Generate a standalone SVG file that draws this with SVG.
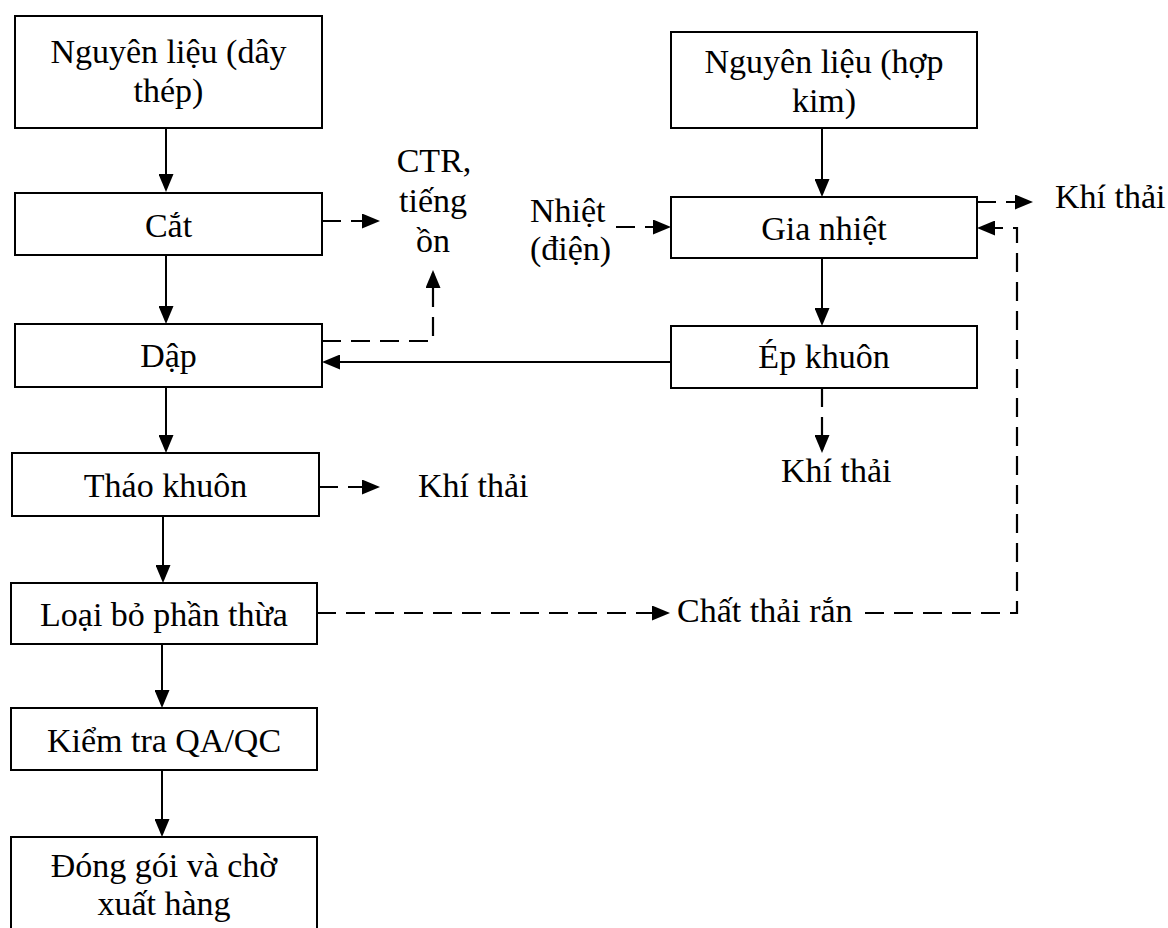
<svg xmlns="http://www.w3.org/2000/svg" width="1168" height="928" viewBox="0 0 1168 928">
  <style>
    .box { fill: #ffffff; stroke: #000000; stroke-width: 2; }
    .lbl { font-family: "Liberation Serif", "Times New Roman", serif; font-size: 34px; fill: #000000; }
    .mid { text-anchor: middle; }
    .solid { fill: none; stroke: #000000; stroke-width: 2; }
    .dash { fill: none; stroke: #000000; stroke-width: 2.2; stroke-dasharray: 19 10; }
  </style>
  <defs>
    <marker id="arrow" markerUnits="userSpaceOnUse" markerWidth="18" markerHeight="15" refX="15" refY="7.5" orient="auto">
      <path d="M0,0 L18,7.5 L0,15 z" fill="#000000"/>
    </marker>
  </defs>

  <rect width="1168" height="928" fill="#ffffff"/>

  <!-- Left process column -->
  <g id="node-nguyen-lieu-day-thep">
    <rect class="box" x="15" y="16" width="307" height="112"/>
    <text class="lbl mid" x="168.5" y="63">Nguyên liệu (dây</text>
    <text class="lbl mid" x="168.5" y="102">thép)</text>
  </g>
  <g id="node-cat">
    <rect class="box" x="15" y="193" width="307" height="62"/>
    <text class="lbl mid" x="168.5" y="237">Cắt</text>
  </g>
  <g id="node-dap">
    <rect class="box" x="15" y="324" width="307" height="63"/>
    <text class="lbl mid" x="168.5" y="367">Dập</text>
  </g>
  <g id="node-thao-khuon">
    <rect class="box" x="12" y="453" width="307" height="63"/>
    <text class="lbl mid" x="165.5" y="497">Tháo khuôn</text>
  </g>
  <g id="node-loai-bo">
    <rect class="box" x="11" y="583" width="306" height="61"/>
    <text class="lbl mid" x="164" y="626">Loại bỏ phần thừa</text>
  </g>
  <g id="node-kiem-tra">
    <rect class="box" x="11" y="708" width="306" height="62"/>
    <text class="lbl mid" x="164" y="752">Kiểm tra QA/QC</text>
  </g>
  <g id="node-dong-goi">
    <rect class="box" x="11" y="837" width="306" height="110"/>
    <text class="lbl mid" x="164" y="877">Đóng gói và chờ</text>
    <text class="lbl mid" x="164" y="915">xuất hàng</text>
  </g>

  <!-- Right process column -->
  <g id="node-nguyen-lieu-hop-kim">
    <rect class="box" x="671" y="32" width="306" height="96"/>
    <text class="lbl mid" x="824" y="73">Nguyên liệu (hợp</text>
    <text class="lbl mid" x="824" y="112">kim)</text>
  </g>
  <g id="node-gia-nhiet">
    <rect class="box" x="671" y="197" width="306" height="61"/>
    <text class="lbl mid" x="824" y="240">Gia nhiệt</text>
  </g>
  <g id="node-ep-khuon">
    <rect class="box" x="671" y="326" width="306" height="62"/>
    <text class="lbl mid" x="824" y="368">Ép khuôn</text>
  </g>

  <!-- Inputs and outputs -->
  <g id="node-ctr">
    <text class="lbl mid" x="434" y="172">CTR,</text>
    <text class="lbl mid" x="433" y="212">tiếng</text>
    <text class="lbl mid" x="433" y="252">ồn</text>
  </g>
  <g id="node-nhiet-dien">
    <text class="lbl" x="530" y="222">Nhiệt</text>
    <text class="lbl" x="530" y="260">(điện)</text>
  </g>
  <g id="node-khi-thai-gia-nhiet">
    <text class="lbl" x="1055" y="208">Khí thải</text>
  </g>
  <g id="node-khi-thai-ep">
    <text class="lbl" x="781" y="482">Khí thải</text>
  </g>
  <g id="node-khi-thai-thao">
    <text class="lbl" x="418" y="497">Khí thải</text>
  </g>
  <g id="node-chat-thai-ran">
    <text class="lbl" x="677" y="622">Chất thải rắn</text>
  </g>

  <!-- Connectors -->
  <g id="connectors">
    <!-- main flow, left column -->
    <line class="solid" x1="166" y1="128" x2="166" y2="189" marker-end="url(#arrow)"/>
    <line class="solid" x1="166" y1="255" x2="166" y2="321" marker-end="url(#arrow)"/>
    <line class="solid" x1="166" y1="387" x2="166" y2="450" marker-end="url(#arrow)"/>
    <line class="solid" x1="163" y1="516" x2="163" y2="580" marker-end="url(#arrow)"/>
    <line class="solid" x1="162" y1="644" x2="162" y2="705" marker-end="url(#arrow)"/>
    <line class="solid" x1="162" y1="770" x2="162" y2="834" marker-end="url(#arrow)"/>

    <!-- main flow, right column -->
    <line class="solid" x1="822" y1="128" x2="822" y2="194" marker-end="url(#arrow)"/>
    <line class="solid" x1="822" y1="258" x2="822" y2="323" marker-end="url(#arrow)"/>
    <line class="solid" x1="671" y1="362" x2="325" y2="362" marker-end="url(#arrow)"/>

    <!-- emissions and side streams -->
    <line class="dash" x1="322" y1="221" x2="377" y2="221" marker-end="url(#arrow)"/>
    <path class="dash" d="M322,341 H433 V273" marker-end="url(#arrow)"/>
    <line class="dash" x1="319" y1="487" x2="377" y2="487" marker-end="url(#arrow)"/>
    <line class="dash" x1="616" y1="227" x2="668" y2="227" marker-end="url(#arrow)"/>
    <line class="dash" x1="977" y1="202" x2="1030" y2="202" marker-end="url(#arrow)"/>
    <line class="dash" x1="822" y1="388" x2="822" y2="450" marker-end="url(#arrow)"/>
    <line class="dash" x1="317" y1="613" x2="667" y2="613" marker-end="url(#arrow)"/>
    <path class="dash" d="M865,613 H1017 V228 H980" marker-end="url(#arrow)"/>
  </g>
</svg>
